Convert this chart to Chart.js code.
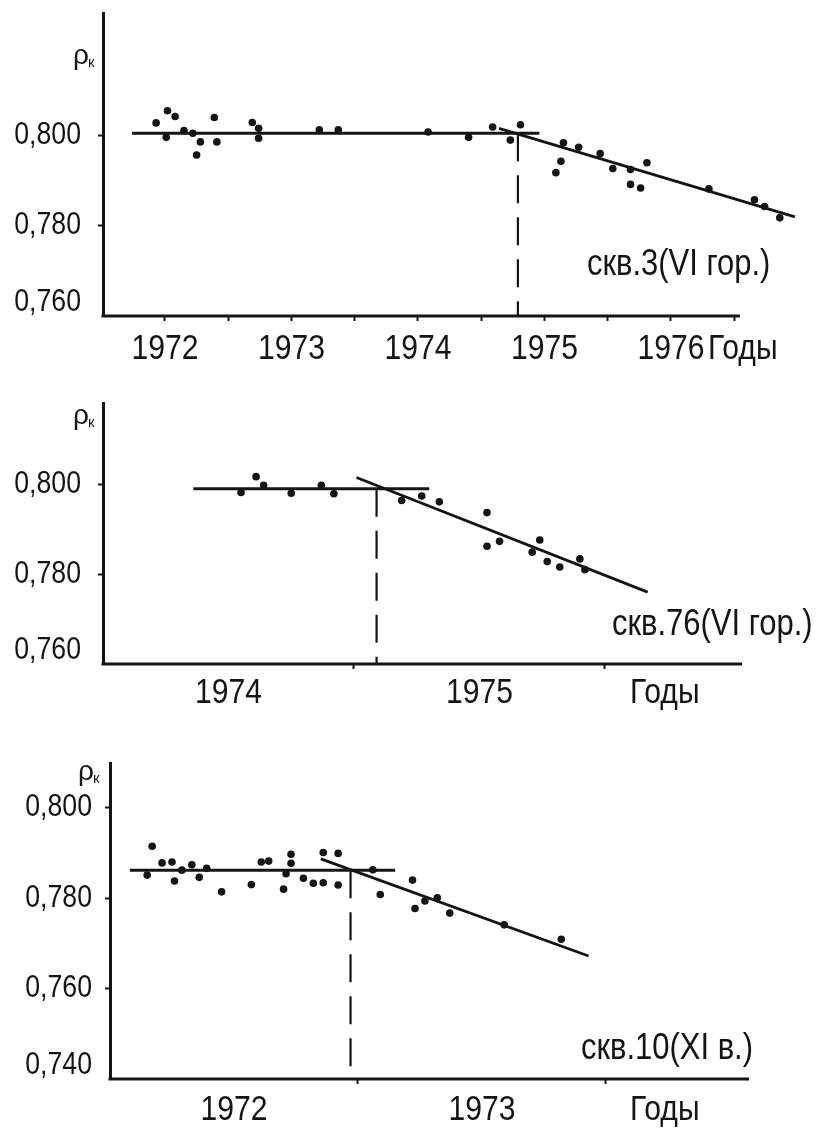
<!DOCTYPE html>
<html>
<head>
<meta charset="utf-8">
<script src="https://cdn.jsdelivr.net/npm/chart.js@4.4.0/dist/chart.umd.min.js"></script>
<style>
  body { margin: 0; background: #fff; }
  canvas { position: absolute; left: 0; }
</style>
</head>
<body>
<canvas id="c1" width="817" height="376" style="top:0"></canvas>
<canvas id="c2" width="817" height="344" style="top:376px"></canvas>
<canvas id="c3" width="817" height="409" style="top:720px"></canvas>
<script>
// ---- скв.3 (VI гор.) ----
const years1 = [1971.93, 1972.02, 1972.08, 1972.01, 1972.15, 1972.22, 1972.28, 1972.25, 1972.39, 1972.41,
                1972.69, 1972.74, 1972.74, 1973.22, 1973.37, 1974.08, 1974.40, 1974.59, 1974.73, 1974.81,
                1975.15, 1975.27, 1975.13, 1975.09, 1975.44, 1975.54, 1975.68, 1975.81, 1975.68, 1975.76,
                1976.30, 1976.66, 1976.74, 1976.86];
const rho1 = [0.8027, 0.8054, 0.8041, 0.7995, 0.8010, 0.8004, 0.7985, 0.7956, 0.8039, 0.7985,
              0.8028, 0.8015, 0.7993, 0.8012, 0.8012, 0.8007, 0.7995, 0.8018, 0.7989, 0.8023,
              0.7983, 0.7973, 0.7942, 0.7917, 0.7959, 0.7926, 0.7924, 0.7939, 0.7891, 0.7883,
              0.7881, 0.7857, 0.7842, 0.7817];
const flatX1 = [1971.74, 1974.96], flatY1 = [0.8004, 0.8004];
const trendX1 = [1974.64, 1976.98], trendY1 = [0.8015, 0.7819];
const break1 = 1974.79;
const xTicks1 = [1972, 1972.5, 1973, 1973.5, 1974, 1974.5, 1975, 1975.5, 1976, 1976.5];
const yTicks1 = [0.760, 0.780, 0.800];

// ---- скв.76 (VI гор.) ----
const years2 = [1974.55, 1974.61, 1974.64, 1974.75, 1974.87, 1974.92, 1975.19, 1975.27, 1975.34,
                1975.53, 1975.53, 1975.58, 1975.71, 1975.74, 1975.77, 1975.82, 1975.90, 1975.92];
const rho2 = [0.7982, 0.8017, 0.7998, 0.7980, 0.7998, 0.7979, 0.7964, 0.7974, 0.7961,
              0.7937, 0.7862, 0.7873, 0.7849, 0.7876, 0.7828, 0.7816, 0.7834, 0.7810];
const flatX2 = [1974.36, 1975.30], flatY2 = [0.7990, 0.7990];
const trendX2 = [1975.01, 1976.17], trendY2 = [0.8015, 0.7760];
const break2 = 1975.09;
const xTicks2 = [1974.5, 1975, 1975.5, 1976];
const yTicks2 = [0.760, 0.780, 0.800];

// ---- скв.10 (XI в.) ----
const years3 = [1972.17, 1972.15, 1972.21, 1972.25, 1972.26, 1972.29, 1972.33, 1972.36, 1972.39, 1972.45,
                1972.57, 1972.61, 1972.64, 1972.70, 1972.71, 1972.73, 1972.73, 1972.78, 1972.82, 1972.86,
                1972.86, 1972.92, 1972.92, 1973.06, 1973.09, 1973.22, 1973.23, 1973.27, 1973.32, 1973.37,
                1973.59, 1973.82];
const rho3 = [0.7915, 0.7851, 0.7878, 0.7880, 0.7838, 0.7862, 0.7874, 0.7846, 0.7866, 0.7814,
              0.7830, 0.7880, 0.7882, 0.7820, 0.7854, 0.7877, 0.7897, 0.7844, 0.7833, 0.7834,
              0.7901, 0.7899, 0.7829, 0.7863, 0.7808, 0.7840, 0.7777, 0.7794, 0.7801, 0.7767,
              0.7741, 0.7709];
const flatX3 = [1972.08, 1973.15], flatY3 = [0.7862, 0.7862];
const trendX3 = [1972.85, 1973.93], trendY3 = [0.7887, 0.7672];
const break3 = 1972.97;
const xTicks3 = [1972.5, 1973, 1973.5, 1974];
const yTicks3 = [0.740, 0.760, 0.780, 0.800];

const INK = '#141414';
const NONE = 'rgba(0,0,0,0)';
const SANS = '"Liberation Sans", Arial, sans-serif';
const SQUEEZE = 0.86; // the original lettering is a condensed grotesque

const pairs = (xs, ys) => xs.map((x, i) => ({ x: x, y: ys[i] }));
const fmtRho = v => v.toFixed(3).replace('.', ',');

function narrowText(ctx, str, x, y, size, align) {
  ctx.save();
  ctx.translate(x, y);
  ctx.scale(SQUEEZE, 1);
  ctx.font = size + 'px ' + SANS;
  ctx.textAlign = align;
  ctx.textBaseline = 'middle';
  ctx.fillText(str, 0, 0);
  ctx.restore();
}

// x axis line (may stop short of the trend), tick labels, ρк, "Годы", well name
const textPlugin = {
  id: 'texts',
  beforeDatasetsDraw(chart, args, o) {
    const ctx = chart.ctx, a = chart.chartArea;
    ctx.save();
    ctx.strokeStyle = INK;
    ctx.lineWidth = 3;
    ctx.beginPath();
    ctx.moveTo(a.left - 1.5, a.bottom);
    ctx.lineTo(chart.scales.x.getPixelForValue(o.axisEnd), a.bottom);
    ctx.stroke();
    ctx.restore();
  },
  afterDraw(chart, args, o) {
    const ctx = chart.ctx, xs = chart.scales.x, ys = chart.scales.y;
    ctx.fillStyle = INK;
    ys.ticks.forEach((t, i) => {
      const py = ys.getPixelForValue(t.value) + (i === 0 ? -14 : 0);
      narrowText(ctx, fmtRho(t.value), o.labelRight, py, 31, 'right');
    });
    xs.ticks.forEach(t => {
      if (t.label) narrowText(ctx, t.label, xs.getPixelForValue(t.value), o.xLabelY, 35, 'center');
    });
    narrowText(ctx, 'Годы', o.years, o.xLabelY, 35, 'left');
    narrowText(ctx, o.name, o.namePos[0], o.namePos[1], 36, 'left');
    ctx.save();
    ctx.textAlign = 'left';
    ctx.textBaseline = 'alphabetic';
    ctx.font = '28px ' + SANS;
    ctx.fillText('ρ', o.rho[0], o.rho[1]);
    ctx.font = '15px ' + SANS;
    ctx.fillText('к', o.rho[0] + 15, o.rho[1] + 3);
    ctx.restore();
  }
};

function makeChart(id, s) {
  return new Chart(document.getElementById(id), {
    type: 'scatter',
    data: {
      datasets: [
        { data: pairs(s.xs, s.ys), pointRadius: 3.8, pointBackgroundColor: INK, pointBorderWidth: 0, clip: false },
        { data: pairs(s.flatX, s.flatY), showLine: true, borderColor: INK, borderWidth: 3, pointRadius: 0, clip: false },
        { data: pairs(s.trendX, s.trendY), showLine: true, borderColor: INK, borderWidth: 2.8, pointRadius: 0, clip: false },
        { data: pairs([s.brk, s.brk], [s.flatY[0], s.yMin]), showLine: true, borderColor: INK, borderWidth: 2.2,
          borderDash: [28, 14], pointRadius: 0, clip: false }
      ]
    },
    options: {
      responsive: false,
      animation: false,
      events: [],
      layout: { padding: { left: 0, top: s.top, right: s.right, bottom: 0 } },
      plugins: { legend: { display: false }, tooltip: { enabled: false }, texts: s.text },
      scales: {
        x: {
          type: 'linear', min: s.xMin, max: s.xMax,
          afterBuildTicks: sc => { sc.ticks = s.xTicks.map(v => ({ value: v })); },
          afterFit: sc => { sc.height = s.xH; },
          border: { display: false },
          grid: { drawOnChartArea: false, tickLength: 5, tickWidth: 2,
                  tickColor: c => s.showMark(c.tick.value) ? INK : NONE },
          ticks: { display: false, autoSkip: false, callback: s.xLabel }
        },
        y: {
          type: 'linear', min: s.yMin, max: s.yMax,
          afterBuildTicks: sc => { sc.ticks = s.yTicks.map(v => ({ value: v })); },
          afterFit: sc => { sc.width = s.axisX; },
          border: { display: true, color: INK, width: 3 },
          grid: { drawOnChartArea: false, tickLength: 5, tickWidth: 2,
                  tickColor: c => c.tick.value === s.yMin ? NONE : INK },
          ticks: { display: false }
        }
      }
    },
    plugins: [textPlugin]
  });
}

const yearAtTick = v => Number.isInteger(v) ? String(v) : '';
const yearMid = v => Number.isInteger(v) ? '' : String(Math.floor(v));

makeChart('c1', {
  xs: years1, ys: rho1, flatX: flatX1, flatY: flatY1, trendX: trendX1, trendY: trendY1, brk: break1,
  xTicks: xTicks1, yTicks: yTicks1, xMin: 1971.51, xMax: 1977.02, yMin: 0.760, yMax: 0.827,
  top: 13, right: 17, xH: 60, axisX: 103,
  showMark: () => true, xLabel: yearAtTick,
  text: { axisEnd: 1976.545, labelRight: 81, xLabelY: 349, rho: [73, 64], years: 708,
          name: 'скв.3(VI гор.)', namePos: [587, 265] }
});

makeChart('c2', {
  xs: years2, ys: rho2, flatX: flatX2, flatY: flatY2, trendX: trendX2, trendY: trendY2, brk: break2,
  xTicks: xTicks2, yTicks: yTicks2, xMin: 1974.0, xMax: 1976.546, yMin: 0.760, yMax: 0.8181,
  top: 27, right: 75, xH: 56, axisX: 103,
  showMark: Number.isInteger, xLabel: yearMid,
  text: { axisEnd: 1976.546, labelRight: 81, xLabelY: 317, rho: [73, 48], years: 630,
          name: 'скв.76(VI гор.)', namePos: [612, 249] }
});

makeChart('c3', {
  xs: years3, ys: rho3, flatX: flatX3, flatY: flatY3, trendX: trendX3, trendY: trendY3, brk: break3,
  xTicks: xTicks3, yTicks: yTicks3, xMin: 1972.0, xMax: 1974.577, yMin: 0.740, yMax: 0.8099,
  top: 43, right: 68, xH: 50, axisX: 110,
  showMark: Number.isInteger, xLabel: yearMid,
  text: { axisEnd: 1974.577, labelRight: 92, xLabelY: 390, rho: [78, 60], years: 630,
          name: 'скв.10(XI в.)', namePos: [581, 329] }
});
</script>
</body>
</html>
